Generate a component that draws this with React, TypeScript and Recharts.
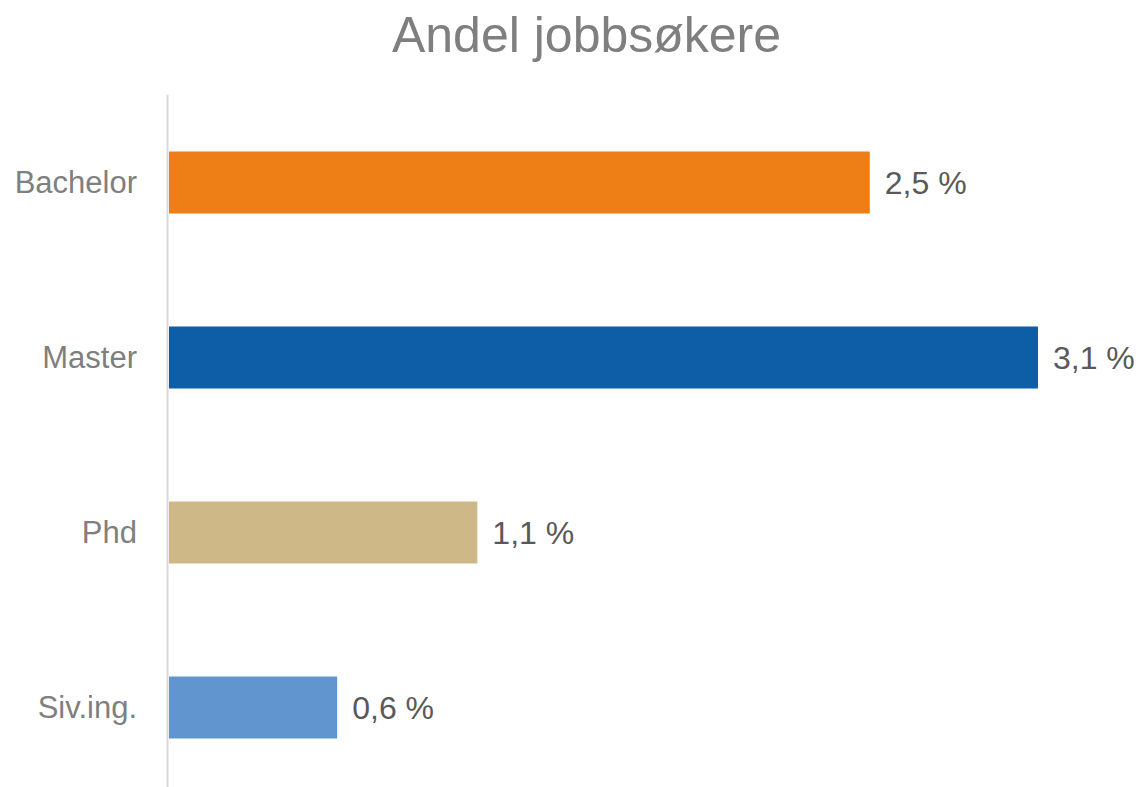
import React from "react";
import { BarChart, Bar, XAxis, YAxis, Cell, LabelList } from "recharts";

const categories = ["Bachelor", "Master", "Phd", "Siv.ing."];
const values = [2.5, 3.1, 1.1, 0.6];
const colors = ["#EE7F17", "#0E5EA7", "#CEB887", "#6095CF"];
const title = "Andel jobbsøkere";

const data = categories.map((name, i) => ({ name, value: values[i] }));

const FONT = '"Liberation Sans", Arial, sans-serif';

const fmt = (v: any) => Number(v).toFixed(1).replace(".", ",") + " %";

export default function App() {
  return (
    <div
      style={{
        position: "absolute",
        top: 0,
        left: 0,
        width: 1140,
        height: 787,
        overflow: "hidden",
        background: "#fff",
        fontFamily: FONT,
      }}
    >
      <div
        style={{
          position: "absolute",
          top: 10,
          left: 0,
          width: 1173,
          textAlign: "center",
          fontSize: 50,
          lineHeight: "50px",
          color: "#7F7F7F",
          fontFamily: FONT,
        }}
      >
        {title}
      </div>
      <BarChart
        width={1140}
        height={800}
        data={data}
        layout="vertical"
        margin={{ top: 94.5, right: 74, bottom: 5.5, left: 0 }}
        barSize={62}
      >
        <XAxis type="number" domain={[0, 3.2]} hide />
        <YAxis
          type="category"
          dataKey="name"
          width={169}
          axisLine={{ stroke: "#D9D9D9", strokeWidth: 2, transform: "translate(-1.5,0)" }}
          tickLine={false}
          tickSize={0}
          tickMargin={32}
          tick={{ fill: "#7F7F7F", fontSize: 31, fontFamily: FONT }}
        />
        <Bar dataKey="value" isAnimationActive={false}>
          {data.map((d, i) => (
            <Cell key={d.name} fill={colors[i]} />
          ))}
          <LabelList
            dataKey="value"
            position="right"
            offset={15}
            formatter={fmt}
            style={{ fill: "#595959", fontSize: 32, fontFamily: FONT }}
          />
        </Bar>
      </BarChart>
    </div>
  );
}
